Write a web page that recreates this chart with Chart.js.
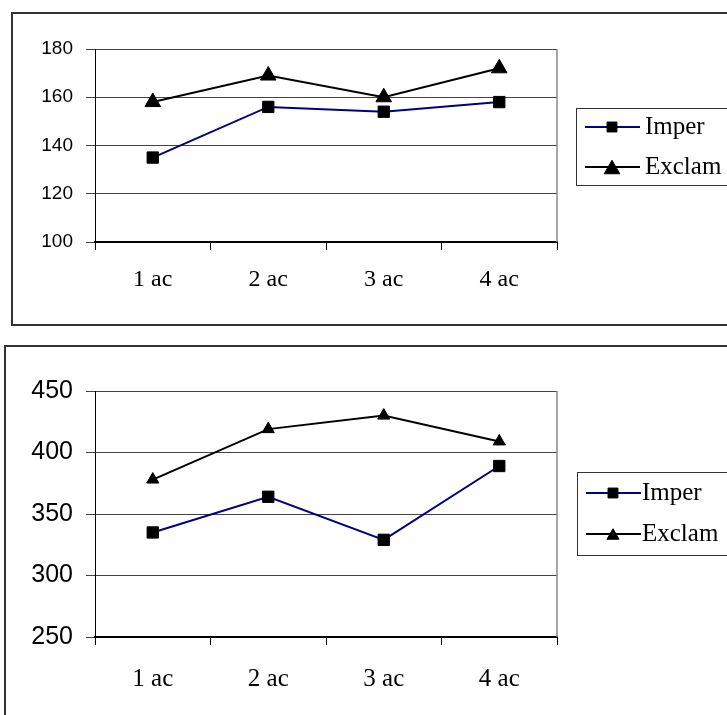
<!DOCTYPE html>
<html>
<head>
<meta charset="utf-8">
<script src="https://cdn.jsdelivr.net/npm/chart.js@4/dist/chart.umd.min.js"></script>
<style>
  body { margin: 0; background: #fff; width: 727px; height: 715px; overflow: hidden; position: relative; }
  .frame { position: absolute; border: 2px solid #333; box-sizing: border-box; }
  canvas { position: absolute; left: 0; }
</style>
</head>
<body>
<div class="frame" style="left:11px; top:12px; width:740px; height:314px;"></div>
<div class="frame" style="left:4px; top:345px; width:740px; height:400px;"></div>
<canvas id="topChart" width="727" height="330" style="top:0"></canvas>
<canvas id="bottomChart" width="727" height="385" style="top:330px"></canvas>
<script>
// categories and series
const categories = ['1 ac', '2 ac', '3 ac', '4 ac'];
const seriesNames = ['Imper', 'Exclam'];

const imperTop = [135, 156, 154, 158];
const exclamTop = [158, 169, 160, 172];
const topTicks = [100, 120, 140, 160, 180];

const imperBottom = [335, 364, 329, 389];
const exclamBottom = [378, 419, 430, 409];
const bottomTicks = [250, 300, 350, 400, 450];

// legend box with line + marker, drawn like the office-style legend
const lineLegend = {
  id: 'lineLegend',
  afterDraw(chart, args, opts) {
    const ctx = chart.ctx;
    ctx.save();
    ctx.strokeStyle = '#333';
    ctx.lineWidth = 1;
    ctx.strokeRect(opts.x + 0.5, opts.top + 0.5, 200, opts.bottom - opts.top);
    chart.data.datasets.forEach((ds, i) => {
      const y = opts.rows[i];
      ctx.strokeStyle = ds.borderColor;
      ctx.lineWidth = 2;
      ctx.beginPath();
      ctx.moveTo(opts.x + 9, y);
      ctx.lineTo(opts.x + 64, y);
      ctx.stroke();
      ctx.fillStyle = '#000';
      ctx.strokeStyle = '#000';
      ctx.lineWidth = 1;
      Chart.helpers.drawPoint(ctx, {
        pointStyle: ds.pointStyle,
        radius: opts.markerRadius[i],
        rotation: 0,
        borderWidth: 1
      }, opts.x + 36, y + (ds.pointStyle === 'triangle' ? opts.markerRadius[i] * 0.25 : 0));
      ctx.fillStyle = '#000';
      ctx.font = opts.font;
      ctx.textBaseline = 'middle';
      ctx.textAlign = 'left';
      ctx.fillText(ds.label, opts.textX, y);
    });
    ctx.restore();
  }
};

// thin grey edge on the right of the plot area
const plotEdge = {
  id: 'plotEdge',
  beforeDatasetsDraw(chart) {
    const a = chart.chartArea;
    const ctx = chart.ctx;
    ctx.save();
    ctx.strokeStyle = '#888';
    ctx.lineWidth = 1.5;
    ctx.beginPath();
    ctx.moveTo(a.right, a.top);
    ctx.lineTo(a.right, a.bottom);
    ctx.stroke();
    ctx.restore();
  }
};

function makeChart(id, imper, exclam, ticks, cfg) {
  const ctx = document.getElementById(id).getContext('2d');
  return new Chart(ctx, {
    type: 'line',
    data: {
      labels: categories,
      datasets: [{
        label: seriesNames[0],
        data: imper,
        borderColor: '#000080',
        borderWidth: 2,
        tension: 0,
        pointStyle: 'rect',
        pointRadius: 8,
        pointBackgroundColor: '#000',
        pointBorderColor: '#000',
        pointBorderWidth: 1
      }, {
        label: seriesNames[1],
        data: exclam,
        borderColor: '#000',
        borderWidth: 2,
        tension: 0,
        pointStyle: 'triangle',
        pointRadius: cfg.triRadius,
        pointBackgroundColor: '#000',
        pointBorderColor: '#000',
        pointBorderWidth: 1
      }]
    },
    options: {
      responsive: false,
      animation: false,
      layout: { padding: { left: 0, right: 170, top: cfg.padTop, bottom: 0 } },
      plugins: {
        legend: { display: false },
        tooltip: { enabled: false },
        lineLegend: cfg.legend
      },
      scales: {
        x: {
          offset: true,
          grid: { offset: true, drawOnChartArea: false, tickLength: 8, color: '#000', lineWidth: 1 },
          border: { color: '#000', width: 2 },
          ticks: { color: '#000', font: { family: 'Liberation Serif', size: cfg.xFont }, padding: cfg.xPad, maxRotation: 0 },
          afterFit(scale) { scale.height = cfg.xHeight; }
        },
        y: {
          min: ticks[0],
          max: ticks[ticks.length - 1],
          afterBuildTicks(scale) { scale.ticks = ticks.map(v => ({ value: v })); },
          grid: { color: '#444', lineWidth: 1, tickLength: 9 },
          border: { color: '#000', width: 1 },
          ticks: { color: '#000', font: { family: 'Liberation Sans', size: cfg.yFont }, padding: 13 },
          afterFit(scale) { scale.width = 95; }
        }
      }
    },
    plugins: [plotEdge, lineLegend]
  });
}

makeChart('topChart', imperTop, exclamTop, topTicks, {
  padTop: 49,
  xHeight: 88,
  xPad: 15,
  xFont: 24,
  yFont: 19,
  triRadius: 9,
  legend: { x: 576, top: 108, bottom: 185, rows: [127, 167], textX: 645, markerRadius: [7, 9], font: '25px "Liberation Serif"' }
});

makeChart('bottomChart', imperBottom, exclamBottom, bottomTicks, {
  padTop: 61,
  xHeight: 78,
  xPad: 19,
  xFont: 25,
  yFont: 25,
  triRadius: 7,
  legend: { x: 577, top: 142, bottom: 225, rows: [163, 204], textX: 642, markerRadius: [7, 7], font: '25px "Liberation Serif"' }
});
</script>
</body>
</html>
